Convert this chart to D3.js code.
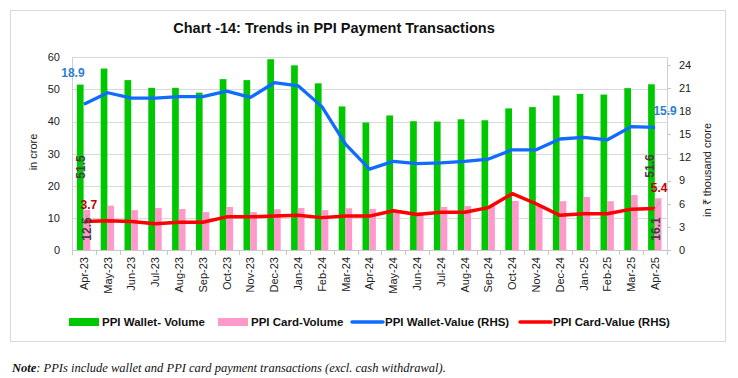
<!DOCTYPE html>
<html>
<head>
<meta charset="utf-8">
<script src="https://cdn.jsdelivr.net/npm/d3@7"></script>
<style>
  body { margin: 0; background: #fff; }
  svg text { font-family: "Liberation Sans", Arial, sans-serif; }
</style>
</head>
<body>
<svg id="chart" width="738" height="378"></svg>
<script>
const months = ["Apr-23","May-23","Jun-23","Jul-23","Aug-23","Sep-23","Oct-23","Nov-23","Dec-23","Jan-24","Feb-24","Mar-24",
  "Apr-24","May-24","Jun-24","Jul-24","Aug-24","Sep-24","Oct-24","Nov-24","Dec-24","Jan-25","Feb-25","Mar-25","Apr-25"];
// in crore (LHS)
const walletVolume = [51.5,56.5,52.9,50.5,50.5,49.0,53.2,52.9,59.4,57.5,51.9,44.7,39.7,41.9,40.1,40.0,40.7,40.4,44.1,44.5,48.1,48.6,48.4,50.4,51.6];
const cardVolume = [12.5,13.8,12.4,13.1,12.8,11.8,13.4,11.8,12.7,13.1,12.4,13.0,12.8,12.3,11.8,13.4,13.7,13.7,15.3,13.7,15.2,16.5,15.2,17.1,16.1];
// in thousand crore (RHS)
const walletValue = [18.9,20.4,19.7,19.7,19.9,19.9,20.6,19.8,21.7,21.3,18.6,13.7,10.5,11.5,11.2,11.3,11.5,11.8,13.0,13.0,14.4,14.6,14.3,16.0,15.9];
const cardValue = [3.7,3.8,3.7,3.4,3.6,3.6,4.3,4.3,4.4,4.5,4.2,4.4,4.4,5.1,4.6,4.9,4.9,5.5,7.3,6.0,4.5,4.7,4.7,5.3,5.4];
const leftTicks = [0,10,20,30,40,50,60];
const rightTicks = [0,3,6,9,12,15,18,21,24];

const svg = d3.select("#chart");
const plotL = 72, plotR = 667, plotT = 57.3, plotB = 250;

// outer frame
svg.append("rect").attr("x", 10.5).attr("y", 10.5).attr("width", 715).attr("height", 331)
  .attr("fill", "none").attr("stroke", "#d9d9d9");

svg.append("text").attr("x", 334).attr("y", 33).attr("text-anchor", "middle")
  .style("font-weight", "bold").style("font-size", "14.5px").style("fill", "#111")
  .text("Chart -14: Trends in PPI Payment Transactions");

const x = d3.scaleBand().domain(months).range([plotL, plotR]);
const sub = d3.scaleBand().domain(["w","c"]).range([x.bandwidth() / 2 - 7, x.bandwidth() / 2 + 6.4]);
const yL = d3.scaleLinear().domain([0, 60]).range([plotB, plotT]);
const yR = d3.scaleLinear().domain([0, 25]).range([plotB, plotT]);

// gridlines
svg.append("g").selectAll("line").data(leftTicks.slice(1)).join("line")
  .attr("x1", plotL).attr("x2", plotR)
  .attr("y1", d => Math.round(yL(d)) + 0.5).attr("y2", d => Math.round(yL(d)) + 0.5)
  .attr("stroke", "#d9d9d9");

// bars
const g = svg.append("g");
g.selectAll(".wv").data(walletVolume).join("rect")
  .attr("x", (d, i) => x(months[i]) + sub("w")).attr("width", sub.bandwidth())
  .attr("y", d => yL(d)).attr("height", d => plotB - yL(d)).attr("fill", "#00c800");
g.selectAll(".cv").data(cardVolume).join("rect")
  .attr("x", (d, i) => x(months[i]) + sub("c")).attr("width", sub.bandwidth())
  .attr("y", d => yL(d)).attr("height", d => plotB - yL(d)).attr("fill", "#ff99cc");

// axes lines
svg.append("line").attr("x1", plotL + 0.5).attr("x2", plotL + 0.5).attr("y1", plotT).attr("y2", plotB).attr("stroke", "#d0d0d0");
svg.append("line").attr("x1", plotR + 0.5).attr("x2", plotR + 0.5).attr("y1", plotT).attr("y2", plotB).attr("stroke", "#d0d0d0");
svg.append("line").attr("x1", plotL).attr("x2", plotR).attr("y1", plotB + 0.5).attr("y2", plotB + 0.5).attr("stroke", "#c8c8c8");

// x ticks at category boundaries
svg.append("g").selectAll("line").data(months.concat(["end"])).join("line")
  .attr("x1", (d, i) => Math.round(plotL + i * x.step()) + 0.5)
  .attr("x2", (d, i) => Math.round(plotL + i * x.step()) + 0.5)
  .attr("y1", plotB).attr("y2", plotB + 5).attr("stroke", "#c8c8c8");

// lines
const cx = (d, i) => x(months[i]) + x.bandwidth() / 2;
const line = d3.line().x(cx).y(d => yR(d));
svg.append("path").datum(walletValue).attr("d", line).attr("fill", "none")
  .attr("stroke", "#0f6cff").attr("stroke-width", 3.3).attr("stroke-linejoin", "round");
svg.append("path").datum(cardValue).attr("d", line).attr("fill", "none")
  .attr("stroke", "#ff0000").attr("stroke-width", 3.5).attr("stroke-linejoin", "round");

// left ticks
svg.append("g").selectAll("text").data(leftTicks).join("text")
  .attr("x", 60).attr("y", d => yL(d)).attr("dy", "0.35em").attr("text-anchor", "end")
  .style("font-size", "11px").style("fill", "#222").text(d => d);
// right ticks
svg.append("g").selectAll("line").data(rightTicks).join("line")
  .attr("x1", plotR).attr("x2", plotR + 4).attr("y1", d => Math.round(yR(d)) + 0.5).attr("y2", d => Math.round(yR(d)) + 0.5)
  .attr("stroke", "#c8c8c8");
svg.append("g").selectAll("text").data(rightTicks).join("text")
  .attr("x", 679).attr("y", d => yR(d)).attr("dy", "0.35em").attr("text-anchor", "start")
  .style("font-size", "11px").style("fill", "#222").text(d => d);

// x labels
svg.append("g").selectAll("text").data(months).join("text")
  .attr("transform", d => `translate(${x(d) + x.bandwidth() / 2},257) rotate(-90)`)
  .attr("dy", "0.35em").attr("text-anchor", "end")
  .style("font-size", "11px").style("fill", "#222").text(d => d);

// axis titles
svg.append("text").attr("transform", "translate(33,152) rotate(-90)").attr("dy", "0.35em")
  .attr("text-anchor", "middle").style("font-size", "11px").style("fill", "#222").text("in crore");
svg.append("text").attr("transform", "translate(707,170) rotate(-90)").attr("dy", "0.35em")
  .attr("text-anchor", "middle").style("font-size", "11px").style("fill", "#222").text("in ₹ thousand crore");

// data labels
const n = months.length - 1;
const lab = svg.append("g").style("font-weight", "bold").style("font-size", "12px");
[[0, -11], [n, 10]].forEach(([i, dx]) => {
  const px = cx(null, i);
  lab.append("text").attr("x", px + dx).attr("y", yR(walletValue[i]) - (i === 0 ? 27 : 12))
    .attr("text-anchor", "middle").style("fill", "#2f7fd0").text(walletValue[i]);
  lab.append("text").attr("x", px + (i === 0 ? 5 : 4)).attr("y", yR(cardValue[i]) - (i === 0 ? 12 : 16))
    .attr("text-anchor", "middle").style("fill", "#c00000").text(cardValue[i]);
  lab.append("text").attr("transform", `translate(${px - (i === 0 ? 3 : 5)},${i === 0 ? 167 : 166}) rotate(-90)`)
    .attr("dy", "0.35em").attr("text-anchor", "middle").style("fill", "#404040").text(walletVolume[i]);
  lab.append("text").attr("transform", `translate(${px + (i === 0 ? 3 : 1)},229) rotate(-90)`)
    .attr("dy", "0.35em").attr("text-anchor", "middle").style("fill", "#404040").text(cardVolume[i]);
});
// leader lines
svg.append("line").attr("x1", cx(null, 0) - 1).attr("y1", 222).attr("x2", cx(null, 0) + 5).attr("y2", 214)
  .attr("stroke", "#a6a6a6");
svg.append("line").attr("x1", cx(null, n) - 1).attr("y1", 210).attr("x2", cx(null, n) + 5).attr("y2", 202)
  .attr("stroke", "#a6a6a6");

// legend
const legend = [
  { label: "PPI Wallet- Volume", color: "#00c800", type: "rect", x: 69 },
  { label: "PPI Card-Volume", color: "#ff99cc", type: "rect", x: 218 },
  { label: "PPI Wallet-Value (RHS)", color: "#0f6cff", type: "line", x: 352 },
  { label: "PPI Card-Value (RHS)", color: "#ff0000", type: "line", x: 520 }
];
const lg = svg.append("g").selectAll("g").data(legend).join("g").attr("transform", d => `translate(${d.x},322)`);
lg.filter(d => d.type === "rect").append("rect").attr("x", 0).attr("y", -4).attr("width", 30).attr("height", 8).attr("fill", d => d.color);
lg.filter(d => d.type === "line").append("line").attr("x1", 0).attr("x2", 31).attr("y1", 0).attr("y2", 0)
  .attr("stroke", d => d.color).attr("stroke-width", 3.5).attr("stroke-linecap", "round");
lg.append("text").attr("x", 33).attr("dy", "0.35em").style("font-size", "11.5px").style("font-weight", "bold")
  .style("fill", "#111").text(d => d.label);

// note
const note = svg.append("text").attr("x", 12).attr("y", 372)
  .style("font-family", "'Liberation Serif', serif").style("font-style", "italic").style("font-size", "12.5px").style("fill", "#111");
note.append("tspan").style("font-weight", "bold").text("Note");
note.append("tspan").text(": PPIs include wallet and PPI card payment transactions (excl. cash withdrawal).");
</script>
</body>
</html>
